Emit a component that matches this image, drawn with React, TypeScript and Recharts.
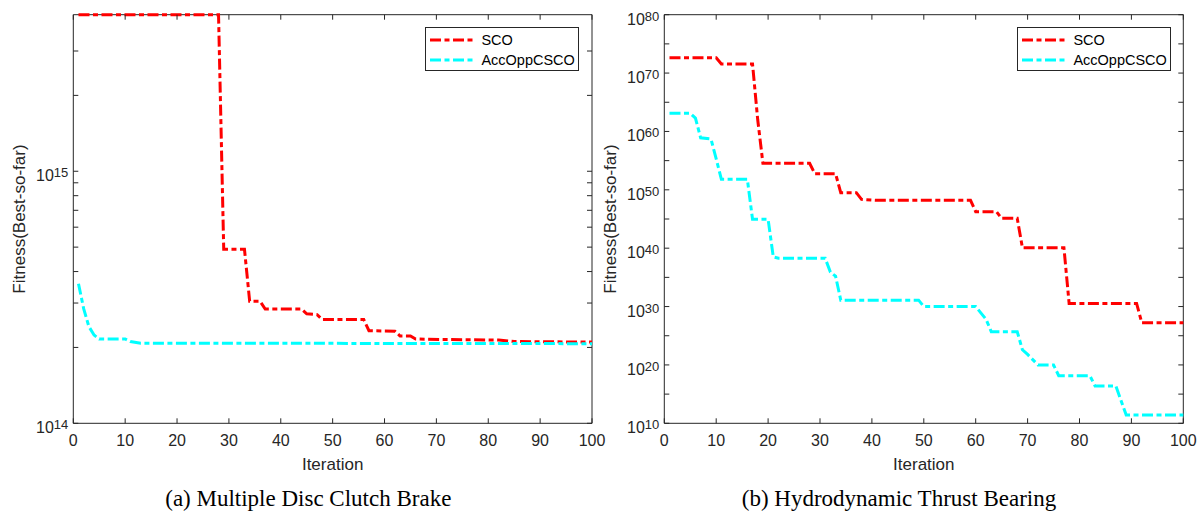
import React from 'react';
import { LineChart, Line, XAxis, YAxis, Legend, Label, ReferenceArea } from 'recharts';

const SANS = '"Liberation Sans", Arial, Helvetica, sans-serif';
const SERIF = '"Liberation Serif", "Times New Roman", serif';
const AXIS_COLOR = '#262626';
const DASH = '11 3.5 5 3.5';
const TICK_LEN = 5;

const seriesNames = ['SCO', 'AccOppCSCO'];
const seriesColors = ['#FF0000', '#00FFFF'];
const iterTicks = [0, 10, 20, 30, 40, 50, 60, 70, 80, 90, 100];
const iterDomain = [0, 100];
const captions = ['(a) Multiple Disc Clutch Brake', '(b) Hydrodynamic Thrust Bearing'];

// Panel (a): Multiple Disc Clutch Brake
const clutchScoIter = [1, 28, 29, 33, 34, 36, 37, 44, 45, 47, 48, 56, 57, 62, 63, 65, 66, 71, 82, 85, 100];
const clutchScoFit = [4.18e15, 4.18e15, 4.9e14, 4.9e14, 3.05e14, 3.05e14, 2.84e14, 2.84e14, 2.72e14, 2.7e14, 2.58e14, 2.58e14, 2.33e14, 2.32e14, 2.22e14, 2.22e14, 2.16e14, 2.15e14, 2.14e14, 2.11e14, 2.1e14];
const clutchAccIter = [1, 2, 3, 4, 5, 10, 11, 13, 100];
const clutchAccFit = [3.58e14, 2.85e14, 2.42e14, 2.24e14, 2.16e14, 2.16e14, 2.11e14, 2.08e14, 2.07e14];
const clutchDomain = [1e14, 4.18e15];
const clutchMajor = [1e14, 1e15];
const clutchMinor = [2e14, 3e14, 4e14, 5e14, 6e14, 7e14, 8e14, 9e14, 2e15, 3e15];

// Panel (b): Hydrodynamic Thrust Bearing
const bearingScoIter = [1, 10, 11, 17, 18, 19, 28, 29, 33, 34, 37, 38, 41, 59, 60, 64, 65, 68, 69, 77, 78, 91, 92, 100];
const bearingScoFit = [4.3e72, 4.3e72, 3.5e71, 3.5e71, 1e62, 3.5e54, 3.5e54, 5.8e52, 5.8e52, 3.2e49, 3.2e49, 2.3e48, 1.6e48, 1.6e48, 1.8e46, 1.8e46, 1.3e45, 1.3e45, 1.2e40, 1.2e40, 3.5e30, 3.5e30, 1.7e27, 1.7e27];
const bearingAccIter = [1, 5, 6, 7, 9, 10, 11, 16, 17, 20, 21, 22, 31, 32, 33, 34, 49, 50, 60, 62, 63, 68, 69, 70, 72, 75, 76, 82, 83, 87, 89, 100];
const bearingAccFit = [1.26e63, 1.26e63, 2e62, 8e58, 5e58, 2e55, 6.3e51, 6.3e51, 8.9e44, 8.9e44, 3.2e38, 1.86e38, 1.86e38, 7.9e35, 1.6e35, 1.26e31, 1.26e31, 1e30, 1e30, 6.3e27, 5e25, 5e25, 4e22, 6.3e21, 1e20, 1e20, 1.4e18, 1.4e18, 2.5e16, 2.5e16, 2.6e11, 2.6e11];
const bearingDomain = [1e10, 1e80];
const bearingMajor = [1e10, 1e20, 1e30, 1e40, 1e50, 1e60, 1e70, 1e80];
const bearingMinor = [1e15, 1e25, 1e35, 1e45, 1e55, 1e65, 1e75];

const toPoints = (iters: number[], fits: number[]) =>
  iters.map((x, i) => ({ iteration: x, fitness: fits[i] }));

// Left y-axis tick: label + inward tick on the left edge and mirrored tick on the right edge
function makeYTick(majors: number[], plotW: number) {
  return function YTick(props: any) {
    const { x, y, payload } = props;
    const v = payload.value;
    const isMajor = majors.includes(v);
    const exp = Math.round(Math.log10(v));
    return (
      <g>
        <line x1={x} x2={x + TICK_LEN} y1={y} y2={y} stroke={AXIS_COLOR} strokeWidth={1} />
        <line x1={x + plotW - TICK_LEN} x2={x + plotW} y1={y} y2={y} stroke={AXIS_COLOR} strokeWidth={1} />
        {isMajor && (
          <text x={x - 5} y={y} textAnchor="end" fill={AXIS_COLOR} fontFamily={SANS} fontSize={16}>
            <tspan dy={10}>10</tspan>
            <tspan dy={-4} fontSize={13}>{exp}</tspan>
          </text>
        )}
      </g>
    );
  };
}

// Bottom x-axis tick: label + inward tick at bottom and mirrored tick at top
function makeXTick(plotH: number) {
  return function XTick(props: any) {
    const { x, y, payload } = props;
    return (
      <g>
        <line x1={x} x2={x} y1={y} y2={y - TICK_LEN} stroke={AXIS_COLOR} strokeWidth={1} />
        <line x1={x} x2={x} y1={y - plotH} y2={y - plotH + TICK_LEN} stroke={AXIS_COLOR} strokeWidth={1} />
        <text x={x} y={y} dy={22.7} textAnchor="middle" fill={AXIS_COLOR} fontFamily={SANS} fontSize={16}>
          {payload.value}
        </text>
      </g>
    );
  };
}

const YLabel = (props: any) => {
  const vb = props.viewBox;
  const x = vb.x + vb.width - 48.3;
  const y = vb.y + vb.height / 2;
  return (
    <text x={x} y={y} transform={`rotate(-90 ${x} ${y})`} textAnchor="middle" fill={AXIS_COLOR} fontFamily={SANS} fontSize={17}>
      Fitness(Best-so-far)
    </text>
  );
};

const XLabel = (props: any) => {
  const vb = props.viewBox;
  const x = vb.x + vb.width / 2;
  const y = vb.y + 46.7;
  return (
    <text x={x} y={y} textAnchor="middle" fill={AXIS_COLOR} fontFamily={SANS} fontSize={17}>
      Iteration
    </text>
  );
};

const LegendBox = () => (
  <svg width={154} height={44} style={{ display: 'block' }}>
    <rect x={0.5} y={0.5} width={153} height={43} fill="#fff" stroke={AXIS_COLOR} strokeWidth={1} />
    {seriesNames.map((name, i) => (
      <g key={name}>
        <line x1={5} x2={48} y1={13 + 20 * i} y2={13 + 20 * i} stroke={seriesColors[i]} strokeWidth={3} strokeDasharray={DASH} />
        <text x={56.4} y={18.4 + 19.5 * i} fontSize={14.5} fontFamily={SANS} fill="#000">
          {name}
        </text>
      </g>
    ))}
  </svg>
);

const TOP = 14.7;
const BOTTOM_Y = 423.3;
const CHART_H = 512;
const X_AXIS_H = 60;

type PanelProps = {
  left: number;
  chartW: number;
  plotLeft: number;
  plotRight: number;
  sco: { iteration: number; fitness: number }[];
  acc: { iteration: number; fitness: number }[];
  domain: number[];
  majors: number[];
  minors: number[];
  legendLeft: number;
};

function Panel({ left, chartW, plotLeft, plotRight, sco, acc, domain, majors, minors, legendLeft }: PanelProps) {
  const yTicks = [...majors, ...minors].sort((a, b) => a - b);
  const plotW = plotRight - plotLeft;
  const plotH = BOTTOM_Y - TOP;
  const YTick = makeYTick(majors, plotW);
  const XTick = makeXTick(plotH);
  return (
    <div style={{ position: 'absolute', left, top: 0 }}>
      <LineChart
        width={chartW}
        height={CHART_H}
        margin={{ top: TOP, right: chartW - plotRight, bottom: CHART_H - BOTTOM_Y - X_AXIS_H, left: 0 }}
      >
        <XAxis
          xAxisId="b"
          dataKey="iteration"
          type="number"
          domain={iterDomain}
          ticks={iterTicks}
          interval={0}
          orientation="bottom"
          height={X_AXIS_H}
          tickSize={0}
          tickMargin={0}
          tick={XTick}
          axisLine={false}
          tickLine={false}
        >
          <Label content={XLabel} />
        </XAxis>
        <YAxis
          yAxisId="l"
          orientation="left"
          type="number"
          scale="log"
          domain={domain}
          ticks={yTicks}
          interval={0}
          width={plotLeft}
          tickSize={0}
          tickMargin={0}
          tick={YTick}
          axisLine={false}
          tickLine={false}
        >
          <Label content={YLabel} />
        </YAxis>
        <ReferenceArea
          xAxisId="b"
          yAxisId="l"
          x1={iterDomain[0]}
          x2={iterDomain[1]}
          y1={domain[0]}
          y2={domain[1]}
          fill="none"
          fillOpacity={0}
          stroke={AXIS_COLOR}
          strokeWidth={1}
          ifOverflow="visible"
        />
        <Line
          xAxisId="b"
          yAxisId="l"
          data={sco}
          dataKey="fitness"
          name={seriesNames[0]}
          type="linear"
          stroke={seriesColors[0]}
          strokeWidth={3}
          strokeDasharray={DASH}
          dot={false}
          activeDot={false}
          isAnimationActive={false}
        />
        <Line
          xAxisId="b"
          yAxisId="l"
          data={acc}
          dataKey="fitness"
          name={seriesNames[1]}
          type="linear"
          stroke={seriesColors[1]}
          strokeWidth={3}
          strokeDasharray={DASH}
          dot={false}
          activeDot={false}
          isAnimationActive={false}
        />
        <Legend
          content={LegendBox}
          layout="horizontal"
          verticalAlign="middle"
          align="center"
          wrapperStyle={{ left: legendLeft, top: 27.3, width: 154, height: 44, right: 'auto', bottom: 'auto' }}
        />
      </LineChart>
    </div>
  );
}

export default function App() {
  return (
    <div style={{ position: 'absolute', left: 0, top: 0, width: 1202, height: 512, background: '#fff', overflow: 'hidden' }}>
      <Panel
        left={0}
        chartW={620}
        plotLeft={73.3}
        plotRight={592}
        sco={toPoints(clutchScoIter, clutchScoFit)}
        acc={toPoints(clutchAccIter, clutchAccFit)}
        domain={clutchDomain}
        majors={clutchMajor}
        minors={clutchMinor}
        legendLeft={425.3}
      />
      <Panel
        left={601}
        chartW={601}
        plotLeft={63.3}
        plotRight={582.3}
        sco={toPoints(bearingScoIter, bearingScoFit)}
        acc={toPoints(bearingAccIter, bearingAccFit)}
        domain={bearingDomain}
        majors={bearingMajor}
        minors={bearingMinor}
        legendLeft={415.7}
      />
      <svg width={1202} height={512} style={{ position: 'absolute', left: 0, top: 0, pointerEvents: 'none' }}>
        <text x={308.3} y={505.5} textAnchor="middle" fontFamily={SERIF} fontSize={23} fill="#000">
          {captions[0]}
        </text>
        <text x={899} y={505.5} textAnchor="middle" fontFamily={SERIF} fontSize={23} fill="#000">
          {captions[1]}
        </text>
      </svg>
    </div>
  );
}
